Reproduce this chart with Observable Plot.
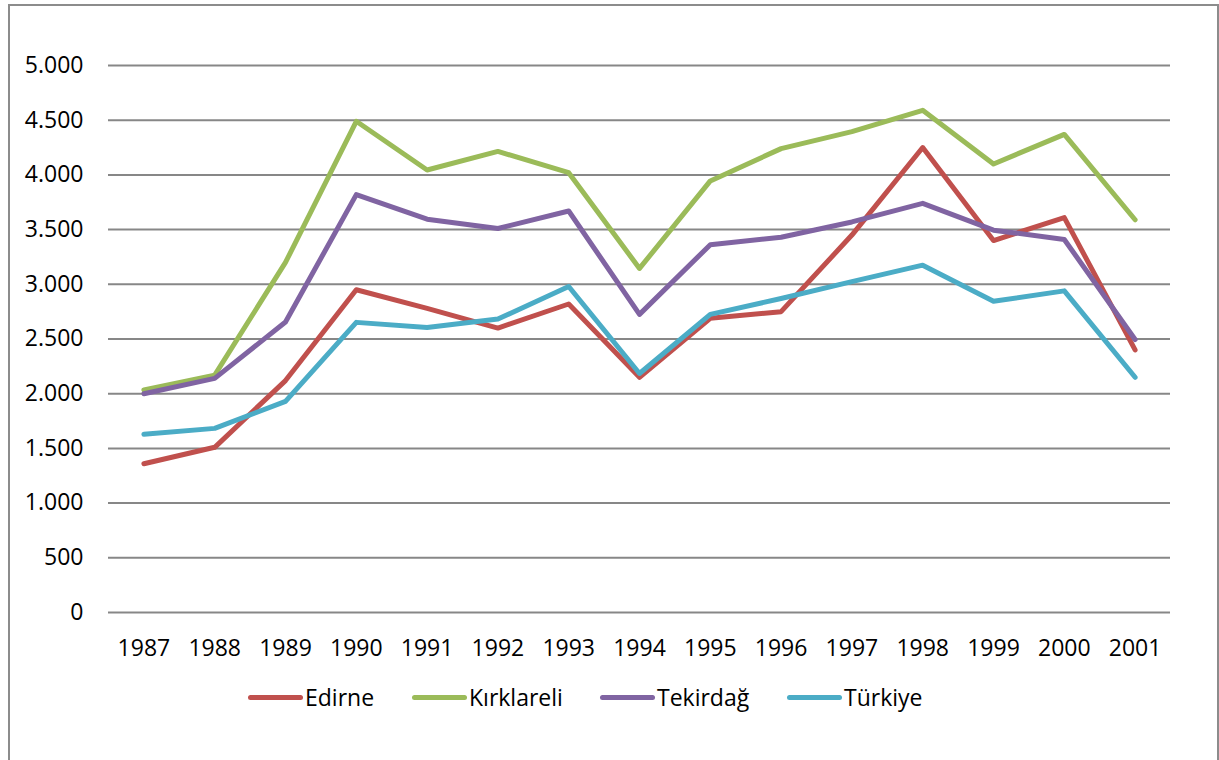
<!DOCTYPE html>
<html>
<head>
<meta charset="utf-8">
<script src="https://cdn.jsdelivr.net/npm/d3@7"></script>
<script src="https://cdn.jsdelivr.net/npm/@observablehq/plot@0.6"></script>
<style>
  html, body { margin: 0; padding: 0; background: #fff; }
  body { width: 1219px; height: 760px; position: relative; overflow: hidden; font-family: "Open Sans", sans-serif; }
  #frame { position: absolute; left: 8px; top: 4px; width: 1211px; height: 800px; border: 2px solid #8c8c8c; box-sizing: border-box; }
  #chart { position: absolute; left: 0; top: 0; }
  #legend { position: absolute; top: 682px; left: 0; width: 1219px; height: 30px; font-size: 23px; color: #000; }
  .item { position: absolute; top: 0; display: flex; align-items: center; height: 30px; }
  .sw { width: 55px; height: 5px; border-radius: 3px; margin-right: 2px; }
</style>
</head>
<body>
<div id="frame"></div>
<div id="chart"></div>
<div id="legend"></div>
<script>
const years = [1987, 1988, 1989, 1990, 1991, 1992, 1993, 1994, 1995, 1996, 1997, 1998, 1999, 2000, 2001];
const seriesNames = ["Edirne", "Kırklareli", "Tekirdağ", "Türkiye"];
const colors = ["#C0504D", "#9BBB59", "#8064A2", "#4BACC6"];
const edirne     = [1360, 1510, 2120, 2950, 2780, 2600, 2820, 2150, 2690, 2750, 3450, 4250, 3400, 3610, 2400];
const kirklareli = [2035, 2170, 3200, 4490, 4045, 4215, 4020, 3145, 3945, 4240, 4395, 4590, 4100, 4370, 3590];
const tekirdag   = [2000, 2140, 2655, 3820, 3595, 3510, 3670, 2725, 3362, 3430, 3570, 3740, 3495, 3410, 2495];
const turkiye    = [1630, 1683, 1930, 2652, 2605, 2682, 2980, 2185, 2725, 2870, 3025, 3175, 2845, 2940, 2150];
const yTicks = [0, 500, 1000, 1500, 2000, 2500, 3000, 3500, 4000, 4500, 5000];

const allSeries = [edirne, kirklareli, tekirdag, turkiye];
const data = [];
allSeries.forEach((vals, si) => {
  vals.forEach((v, i) => data.push({ year: String(years[i]), value: v, series: seriesNames[si] }));
});

const locale = d3.formatLocale({ decimal: ",", thousands: ".", grouping: [3], currency: ["", ""] });
const fmt = locale.format(",d");

const chart = Plot.plot({
  width: 1219,
  height: 680,
  marginLeft: 108,
  marginRight: 49,
  marginTop: 65,
  marginBottom: 68,
  style: { fontFamily: "Open Sans, sans-serif", fontSize: "23px", color: "#000", background: "transparent", overflow: "visible" },
  x: { type: "point", domain: years.map(String), padding: 0.5, round: false, label: null },
  y: { domain: [0, 5000], label: null },
  color: { domain: seriesNames, range: colors },
  marks: [
    Plot.ruleY(yTicks, { stroke: "#878787", strokeWidth: 2, strokeOpacity: 1 }),
    Plot.axisY({ ticks: yTicks, tickFormat: fmt, tickSize: 0, tickPadding: 25, fontSize: 23, label: null }),
    Plot.axisX({ tickSize: 0, tickPadding: 27, fontSize: 23, label: null }),
    Plot.line(data, { x: "year", y: "value", z: "series", stroke: "series", strokeWidth: 5, strokeLinejoin: "round", strokeLinecap: "round" })
  ]
});
document.getElementById("chart").appendChild(chart);

const legendPos = [248, 412, 600, 787];
const legend = document.getElementById("legend");
seriesNames.forEach((name, i) => {
  const item = document.createElement("div");
  item.className = "item";
  item.style.left = legendPos[i] + "px";
  const sw = document.createElement("div");
  sw.className = "sw";
  sw.style.background = colors[i];
  const t = document.createElement("span");
  t.textContent = name;
  item.appendChild(sw);
  item.appendChild(t);
  legend.appendChild(item);
});
</script>
</body>
</html>
